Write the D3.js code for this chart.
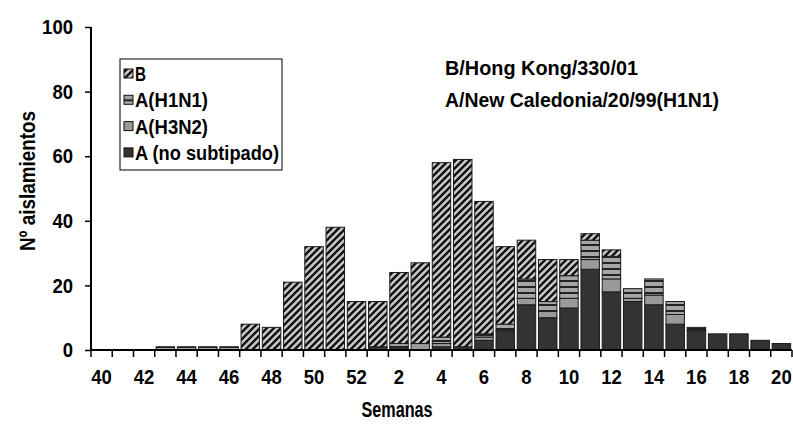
<!DOCTYPE html>
<html>
<head>
<meta charset="utf-8">
<script src="https://cdn.jsdelivr.net/npm/d3@7"></script>
<style>
  html, body { margin: 0; padding: 0; background: #fff; }
  svg { display: block; }
  text { font-family: "Liberation Sans", Arial, sans-serif; font-weight: bold; fill: #000; }
</style>
</head>
<body>
<svg id="chart" width="793" height="424"></svg>
<script>
const weeks = ["40","41","42","43","44","45","46","47","48","49","50","51","52","1","2","3","4","5","6","7","8","9","10","11","12","13","14","15","16","17","18","19","20"];
const xTickLabels = ["40","42","44","46","48","50","52","2","4","6","8","10","12","14","16","18","20"];
const yTicks = [0, 20, 40, 60, 80, 100];
const seriesNames = ["A (no subtipado)", "A(H3N2)", "A(H1N1)", "B"];
const valsNoSub = [0,0,0,0,0,0,0,0,0,0,0,0,0, 1,1,0,1,1,3,6,14,10,13,25,18,15,14,8,6,5,5,3,2];
const valsH3N2  = [0,0,0,0,0,0,0,0,0,0,0,0,0, 0,0,2,1,0,1,0,2,2,3,3,4,1,3,3,0,0,0,0,0];
const valsH1N1  = [0,0,0,1,1,1,1,0,0,0,0,0,0, 0,1,0,2,0,1,2,6,3,7,6,7,3,5,4,1,0,0,0,0];
const valsB     = [0,0,0,0,0,0,0,8,7,21,32,38,15, 14,22,25,54,58,41,24,12,13,5,2,2,0,0,0,0,0,0,0,0];
const legendOrder = ["B", "A(H1N1)", "A(H3N2)", "A (no subtipado)"];
const annotations = ["B/Hong Kong/330/01", "A/New Caledonia/20/99(H1N1)"];

const svg = d3.select("#chart");
const defs = svg.append("defs");

// hatch for B
const pB = defs.append("pattern").attr("id", "hatchB").attr("patternUnits", "userSpaceOnUse")
  .attr("width", 7).attr("height", 7);
pB.append("rect").attr("width", 7).attr("height", 7).attr("fill", "#c8c8c8");
pB.append("path").attr("d", "M-1.75,1.75 L1.75,-1.75 M0,7 L7,0 M5.25,8.75 L8.75,5.25")
  .attr("stroke", "#111").attr("stroke-width", 2.4);
// horizontal stripes for H1N1
const pH = defs.append("pattern").attr("id", "stripeH1").attr("patternUnits", "userSpaceOnUse")
  .attr("width", 6).attr("height", 6);
pH.append("rect").attr("width", 6).attr("height", 6).attr("fill", "#a6a6a6");
pH.append("rect").attr("y", 4).attr("width", 6).attr("height", 2).attr("fill", "#222");

const fills = {
  "B": "url(#hatchB)",
  "A(H1N1)": "url(#stripeH1)",
  "A(H3N2)": "#9a9a9a",
  "A (no subtipado)": "#333333"
};

const table = weeks.map((w, i) => ({
  week: w,
  "A (no subtipado)": valsNoSub[i],
  "A(H3N2)": valsH3N2[i],
  "A(H1N1)": valsH1N1[i],
  "B": valsB[i]
}));

const x = d3.scaleBand().domain(weeks).range([91, 792]).paddingInner(0.13).paddingOuter(0.065);
const y = d3.scaleLinear().domain([0, 100]).range([350, 27]);

const stack = d3.stack().keys(seriesNames)(table);

const g = svg.append("g");
stack.forEach(layer => {
  g.selectAll(null).data(layer.filter(d => d[1] - d[0] > 0)).enter().append("rect")
    .attr("x", d => x(d.data.week))
    .attr("width", x.bandwidth())
    .attr("y", d => y(d[1]))
    .attr("height", d => y(d[0]) - y(d[1]))
    .attr("fill", fills[layer.key])
    .attr("stroke", "#1a1a1a")
    .attr("stroke-width", 1);
});

// Y axis
const yAxis = d3.axisLeft(y).tickValues(yTicks).tickSize(6).tickPadding(12);
const yg = svg.append("g").attr("transform", "translate(91,0)").call(yAxis);
yg.select(".domain").attr("stroke", "#000").attr("stroke-width", 2).attr("d", `M0,${y(100)}V${y(0)}`);
yg.selectAll(".tick line").attr("stroke", "#000").attr("stroke-width", 1.5);
yg.selectAll(".tick text").style("font-size", "21px").style("font-family", null)
  .attr("textLength", d => String(d).length * 10.3).attr("lengthAdjust", "spacingAndGlyphs");

// X axis
const step = x.step();
const x0 = x(weeks[0]) - step * x.paddingInner() / 2;
const xAxis = d3.axisBottom(x).tickValues(xTickLabels).tickSize(0).tickPadding(19);
const xg = svg.append("g").attr("transform", "translate(0,350)").call(xAxis);
xg.select(".domain").attr("stroke", "#000").attr("stroke-width", 2).attr("d", "M91,0H792");
xg.selectAll(".tick text").style("font-size", "21px").style("font-family", null)
  .attr("textLength", d => String(d).length * 10.3).attr("lengthAdjust", "spacingAndGlyphs");
const bounds = d3.range(weeks.length + 1).map(i => x0 + i * step);
xg.selectAll("line.bt").data(bounds).enter().append("line").attr("class", "bt")
  .attr("x1", d => d).attr("x2", d => d).attr("y1", 0).attr("y2", 7)
  .attr("stroke", "#000").attr("stroke-width", 1.5);

// axis titles
svg.append("text").attr("x", 397).attr("y", 417).attr("text-anchor", "middle")
  .style("font-size", "22px").attr("textLength", 71).attr("lengthAdjust", "spacingAndGlyphs").text("Semanas");
svg.append("text").attr("transform", "translate(35,181) rotate(-90)").attr("text-anchor", "middle")
  .style("font-size", "22px").attr("textLength", 140).attr("lengthAdjust", "spacingAndGlyphs").text("Nº aislamientos");

// legend
const legendW = { "B": 11, "A(H1N1)": 73, "A(H3N2)": 73, "A (no subtipado)": 144 };
const lg = svg.append("g");
lg.append("rect").attr("x", 120).attr("y", 59).attr("width", 162).attr("height", 111)
  .attr("fill", "#fff").attr("stroke", "#000").attr("stroke-width", 1);
legendOrder.forEach((k, i) => {
  const cy = 74 + i * 26.3;
  lg.append("rect").attr("x", 124).attr("y", cy - 5).attr("width", 9).attr("height", 9)
    .attr("fill", k === "A(H1N1)" ? "#a6a6a6" : fills[k]).attr("stroke", "#111").attr("stroke-width", 1);
  if (k === "A(H1N1)") {
    lg.append("line").attr("x1", 124).attr("x2", 133).attr("y1", cy).attr("y2", cy)
      .attr("stroke", "#222").attr("stroke-width", 2);
  }
  lg.append("text").attr("x", 135).attr("y", cy + 7).style("font-size", "20px")
    .attr("textLength", legendW[k]).attr("lengthAdjust", "spacingAndGlyphs").text(k);
});

// annotations
const annW = [193, 274];
annotations.forEach((t, i) => {
  svg.append("text").attr("x", 445).attr("y", 75 + i * 32).style("font-size", "20px")
    .attr("textLength", annW[i]).attr("lengthAdjust", "spacingAndGlyphs").text(t);
});
</script>
</body>
</html>
